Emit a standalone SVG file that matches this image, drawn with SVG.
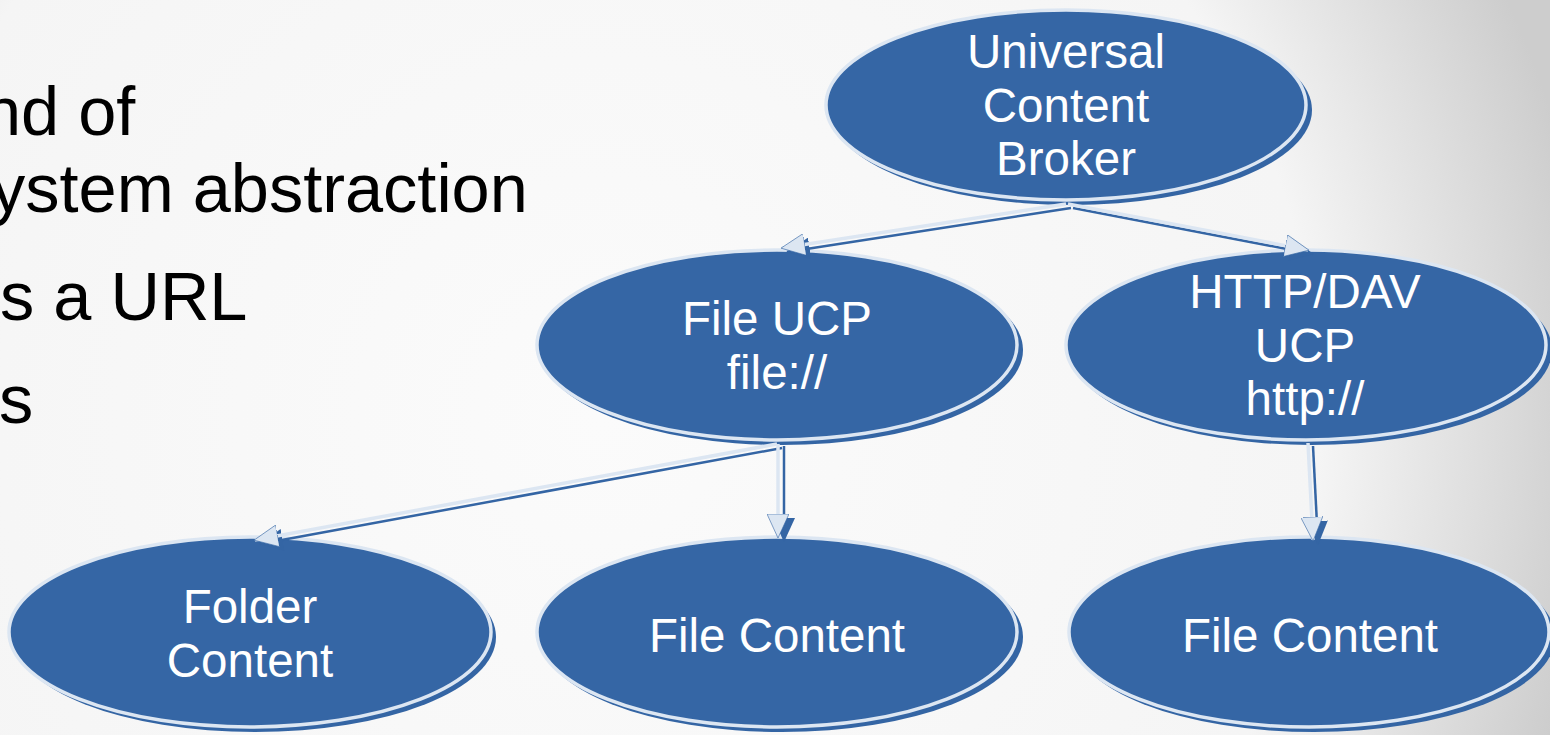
<svg xmlns="http://www.w3.org/2000/svg" width="1550" height="735" viewBox="0 0 1550 735">
<defs>
  <radialGradient id="bg" gradientUnits="userSpaceOnUse" cx="600" cy="420" r="1000">
    <stop offset="0" stop-color="#fbfbfb"/>
    <stop offset="0.72" stop-color="#f5f5f5"/>
    <stop offset="1" stop-color="#cdcdcd"/>
  </radialGradient>
  <marker id="hl" viewBox="0 0 24 22" refX="23" refY="11" markerWidth="24" markerHeight="22" markerUnits="userSpaceOnUse" orient="auto">
    <path d="M0,0 L24,11 L0,22 Z" fill="#dce6f2" stroke="#3465a4" stroke-width="0.6"/>
  </marker>
  <marker id="hd" viewBox="0 0 24 22" refX="23" refY="11" markerWidth="24" markerHeight="22" markerUnits="userSpaceOnUse" orient="auto">
    <path d="M0,0 L24,11 L0,22 Z" fill="#3465a4"/>
  </marker>
  <style>
    .sh{fill:#3465a4}
    .nd{fill:#3566a5;stroke:#dce6f2;stroke-width:3.5}
    .tx{font-family:"Liberation Sans",Arial,sans-serif;font-size:47.5px;fill:#ffffff;text-anchor:middle}
    .bt{font-family:"Liberation Sans",Arial,sans-serif;font-size:68.5px;fill:#000000}
    .cl{stroke:#dce6f2;stroke-width:3.5;fill:none;marker-end:url(#hl)}
    .cd{stroke:#3465a4;stroke-width:2.5;fill:none;marker-end:url(#hd)}
  </style>
</defs>
<rect x="0" y="0" width="1550" height="735" fill="url(#bg)"/>

<g id="bullets">
  <text class="bt" x="-17" y="135">nd of</text>
  <text class="bt" x="-9" y="212">ystem abstraction</text>
  <text class="bt" x="0" y="320">s a URL</text>
  <text class="bt" x="-1" y="423">s</text>
</g>

<g id="node-ucb">
  <ellipse class="sh" cx="1071" cy="110" rx="241" ry="95"/>
  <ellipse class="nd" cx="1066" cy="105" rx="240" ry="95"/>
  <text class="tx" x="1066" y="68">Universal</text>
  <text class="tx" x="1066" y="122">Content</text>
  <text class="tx" x="1066" y="175">Broker</text>
</g>

<g id="node-fileucp">
  <ellipse class="sh" cx="782" cy="350" rx="241" ry="95"/>
  <ellipse class="nd" cx="777" cy="345" rx="240" ry="95"/>
  <text class="tx" x="777" y="335">File UCP</text>
  <text class="tx" x="777" y="389">file://</text>
</g>

<g id="node-httpucp">
  <ellipse class="sh" cx="1311" cy="350" rx="241" ry="95"/>
  <ellipse class="nd" cx="1306" cy="345" rx="240" ry="95"/>
  <text class="tx" x="1305" y="308">HTTP/DAV</text>
  <text class="tx" x="1305" y="362">UCP</text>
  <text class="tx" x="1305" y="415">http://</text>
</g>

<g id="node-folder">
  <ellipse class="sh" cx="255" cy="637" rx="241" ry="95"/>
  <ellipse class="nd" cx="250" cy="632" rx="241" ry="95"/>
  <text class="tx" x="250" y="623">Folder</text>
  <text class="tx" x="250" y="677">Content</text>
</g>

<g id="node-filecontent1">
  <ellipse class="sh" cx="782" cy="637" rx="241" ry="95"/>
  <ellipse class="nd" cx="777" cy="632" rx="240" ry="95"/>
  <text class="tx" x="777" y="652">File Content</text>
</g>

<g id="node-filecontent2">
  <ellipse class="sh" cx="1314" cy="637" rx="241" ry="95"/>
  <ellipse class="nd" cx="1309" cy="632" rx="240" ry="95"/>
  <text class="tx" x="1310" y="652">File Content</text>
</g>

<g id="connectors">
  <line class="cd" x1="1071" y1="208" x2="787" y2="252"/>
  <line class="cd" x1="1073" y1="208" x2="1313" y2="254"/>
  <line class="cd" x1="782" y1="448" x2="260" y2="544"/>
  <line class="cd" x1="784" y1="446" x2="784" y2="541"/>
  <line class="cd" x1="1313" y1="446" x2="1318" y2="544"/>
  <line class="cl" x1="1066" y1="204" x2="782" y2="248"/>
  <line class="cl" x1="1068" y1="204" x2="1308" y2="250"/>
  <line class="cl" x1="777" y1="444" x2="255" y2="540"/>
  <line class="cl" x1="778" y1="444" x2="778" y2="537"/>
  <line class="cl" x1="1308" y1="443" x2="1313" y2="540"/>
</g>
</svg>
